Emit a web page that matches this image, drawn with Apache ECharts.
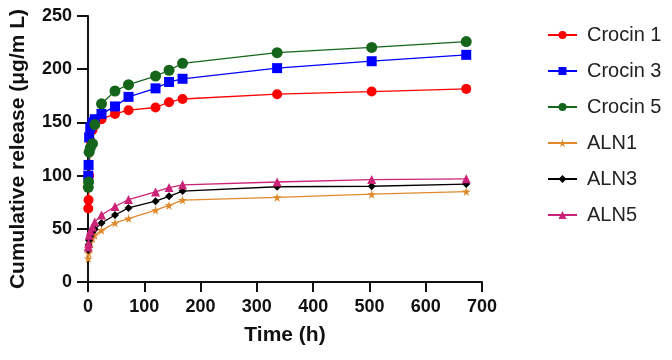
<!DOCTYPE html>
<html><head><meta charset="utf-8">
<script src="https://cdn.jsdelivr.net/npm/echarts@6/dist/echarts.min.js"></script>
<style>html,body{margin:0;padding:0;background:#fff}#c{width:672px;height:360px}</style>
</head><body><div id="c"></div>
<script>
const times = [0.5, 1, 2, 4, 8, 12, 24, 48, 72, 120, 144, 168, 336, 504, 672];
const crocin1 = [69, 77, 100, 133, 143, 148, 153, 158, 161.5, 164, 169, 172, 176.5, 179, 181.5];
const crocin3 = [100, 110, 136, 145, 150, 153, 158, 165, 174, 182, 188, 191, 201, 207.5, 213.5];
const crocin5 = [89, 94, 122, 126, 130, 148, 167.5, 179.5, 185.5, 193.5, 199, 205.5, 215.5, 220.5, 226];
const aln1 = [22, 27, 32, 37, 41, 44, 48.5, 55.5, 59.6, 67.5, 72, 77, 79.5, 82.5, 85];
const aln3 = [30, 35, 39, 43, 47, 49.5, 55.5, 63, 69.6, 76, 80.5, 85.5, 89.5, 90, 92];
const aln5 = [33, 36.5, 44, 48, 51.7, 56.5, 63, 71, 77.5, 84.7, 88.8, 91.3, 94, 96.3, 97];
const seriesNames = ['Crocin 1', 'Crocin 3', 'Crocin 5', 'ALN1', 'ALN3', 'ALN5'];
const xTicks = [0, 100, 200, 300, 400, 500, 600, 700];
const yTicks = [0, 50, 100, 150, 200, 250];

const star = 'path://M50,0 L61,35 L98,35 L68,57 L79,91 L50,70 L21,91 L32,57 L2,35 L39,35 Z';
const styles = [
  {color:'#ff0000', symbol:'circle', size:10},
  {color:'#0000ff', symbol:'rect', size:10},
  {color:'#15661a', symbol:'circle', size:11},
  {color:'#e0892c', symbol:star, size:9},
  {color:'#000000', symbol:'diamond', size:8},
  {color:'#cc2277', symbol:'triangle', size:9}
];
const data = [crocin1, crocin3, crocin5, aln1, aln3, aln5];
const font = 'Liberation Sans, Arial, sans-serif';

const chart = echarts.init(document.getElementById('c'));
chart.setOption({
  animation:false,
  grid:{left:85, right:190, top:16, bottom:78},
  legend:{
    orient:'vertical', left:542, top:20, itemGap:16, itemWidth:29, itemHeight:10,
    textStyle:{fontFamily:font, fontSize:20, color:'#222', padding:[0,0,0,5]},
    data: seriesNames
  },
  xAxis:{
    type:'value', min:0, max:700, interval:100,
    name:'Time (h)', nameLocation:'middle', nameGap:43,
    nameTextStyle:{fontFamily:font, fontSize:21, fontWeight:'bold', color:'#111'},
    axisLine:{lineStyle:{color:'#111', width:2}},
    axisTick:{show:true, length:10, lineStyle:{color:'#111', width:2}},
    axisLabel:{fontFamily:font, fontSize:18, fontWeight:'bold', color:'#111', margin:16,
      formatter:v=>xTicks.includes(v)?String(v):''},
    splitLine:{show:false}
  },
  yAxis:{
    type:'value', min:0, max:250, interval:50,
    name:'Cumulative release (μg/m L)', nameLocation:'middle', nameGap:59, nameRotate:90,
    nameTextStyle:{fontFamily:font, fontSize:21, fontWeight:'bold', color:'#111'},
    axisLine:{show:true, lineStyle:{color:'#111', width:2}},
    axisTick:{show:true, length:11, lineStyle:{color:'#111', width:2}},
    axisLabel:{fontFamily:font, fontSize:18, fontWeight:'bold', color:'#111', margin:16,
      formatter:v=>yTicks.includes(v)?String(v):''},
    splitLine:{show:false}
  },
  series: seriesNames.map((n,i)=>({
    name:n, type:'line',
    data: times.map((t,j)=>[t, data[i][j]]),
    symbol: styles[i].symbol, symbolSize: styles[i].size,
    showSymbol:true,
    itemStyle:{color:styles[i].color},
    lineStyle:{color:styles[i].color, width:1.3}
  }))
});
</script></body></html>
